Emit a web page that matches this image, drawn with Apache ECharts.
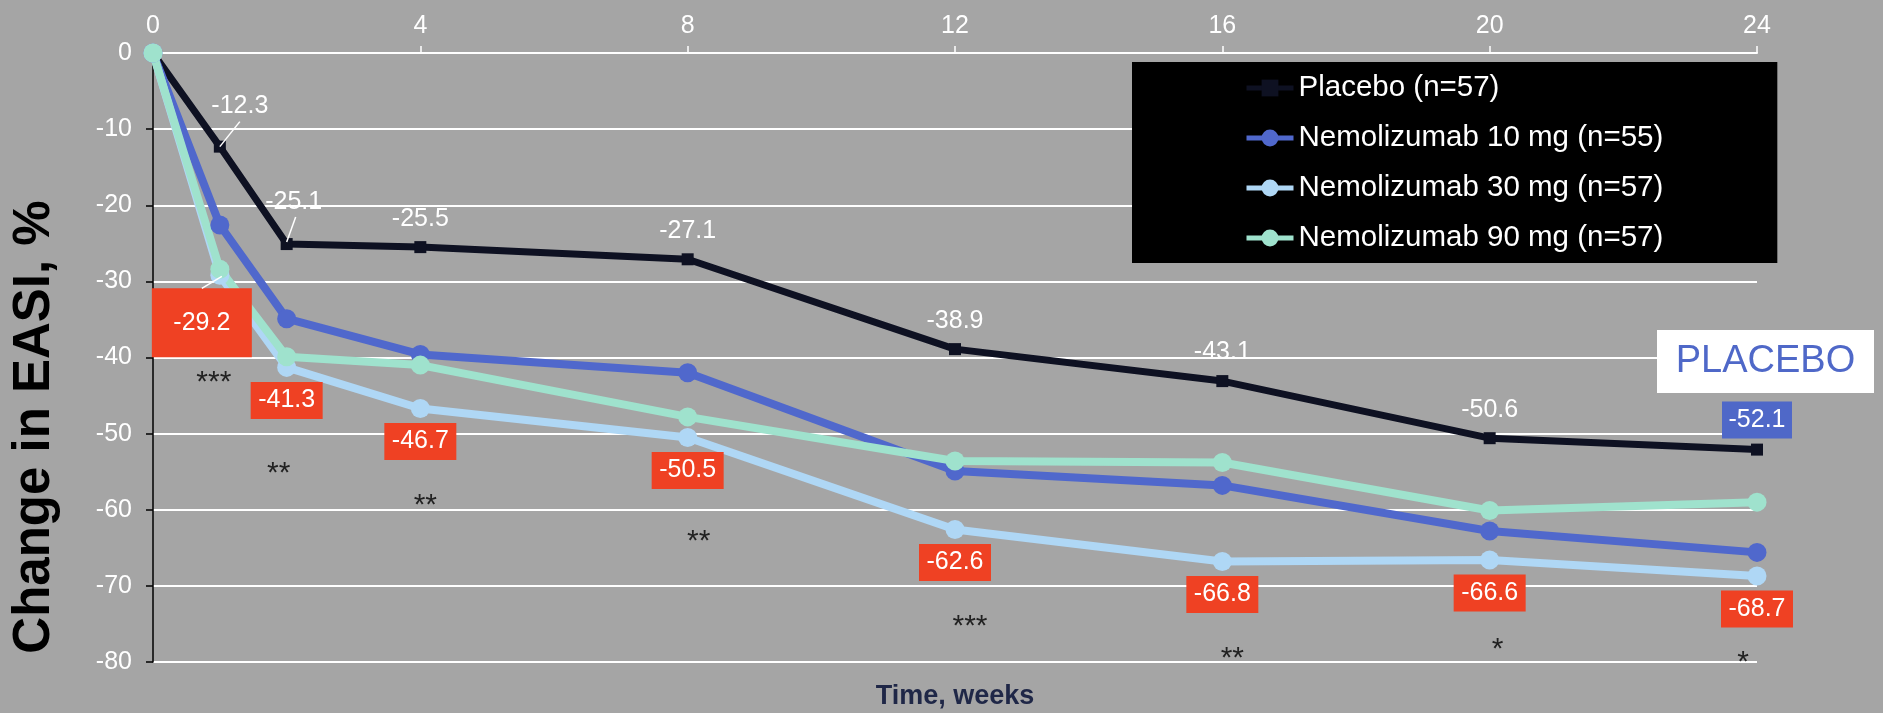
<!DOCTYPE html>
<html>
<head>
<meta charset="utf-8">
<title>Change in EASI, %</title>
<script src="https://cdn.jsdelivr.net/npm/echarts@6/dist/echarts.min.js"></script>
<style>
  html, body { margin: 0; padding: 0; background: #a5a5a5; }
  #chart { width: 1883px; height: 713px; }
</style>
</head>
<body>
<div id="chart"></div>
<script>
// Study visits (weeks) and mean % change in EASI per arm
const weeks   = [0, 1, 2, 4, 8, 12, 16, 20, 24];
const placebo = [0, -12.3, -25.1, -25.5, -27.1, -38.9, -43.1, -50.6, -52.1];
const nemo10  = [0, -22.6, -34.9, -39.6, -42.0, -54.9, -56.8, -62.8, -65.6];
const nemo30  = [0, -29.2, -41.3, -46.7, -50.5, -62.6, -66.8, -66.6, -68.7];
const nemo90  = [0, -28.4, -39.9, -41.0, -47.8, -53.6, -53.8, -60.1, -59.0];
const seriesNames = [
  'Placebo (n=57)',
  'Nemolizumab 10 mg (n=55)',
  'Nemolizumab 30 mg (n=57)',
  'Nemolizumab 90 mg (n=57)'
];
// Significance of 30 mg vs placebo at weeks 1..24
const significance = ['***', '**', '**', '**', '***', '**', '*', '*'];
const yTitle = 'Change in EASI, %';
const xTitle = 'Time, weeks';
const boxNote = 'PLACEBO';

const FONT = '"Liberation Sans", Arial, Helvetica, sans-serif';
const COLORS = ['#0e1122', '#5068cc', '#afd7f5', '#9fe2cd'];
const RED = '#ef4123';
const BLUE = '#4f68c8';

// pixel nudges of the star annotations below each 30 mg label
const sigOffsets = [[-6, 107], [-8, 106], [5, 97], [11, 104], [15, 97], [10, 97], [8, 90], [-14, 87]];

const fmt = p => p.value[1].toFixed(1);

function items(values) {
  return values.map((v, i) => {
    const it = { value: [weeks[i], v] };
    if (i === 0) it.label = { show: false };
    return it;
  });
}

const placeboData = items(placebo);
placeboData[1].label = { offset: [20, -12.5] };
placeboData[2].label = { offset: [7, -13] };
placeboData[8].label = { backgroundColor: BLUE, padding: [6, 6.5], distance: 5 };

const nemo30Data = items(nemo30);
nemo30Data[1].label = { padding: [22, 21.5], offset: [-18, -1.5] };

const sigData = significance.map((s, i) => ({
  value: [weeks[i + 1], nemo30[i + 1]],
  label: { formatter: s, offset: sigOffsets[i] }
}));

const chart = echarts.init(document.getElementById('chart'));

const lineBase = {
  type: 'line',
  showAllSymbol: true,
  emphasis: { disabled: true },
  animation: false
};

chart.setOption({
  backgroundColor: '#a5a5a5',
  animation: false,
  textStyle: { fontFamily: FONT },
  grid: { left: 153, right: 126, top: 53, bottom: 51, containLabel: false },
  legend: {
    data: seriesNames,
    orient: 'vertical',
    left: 1132,
    top: 62,
    backgroundColor: '#000',
    padding: [11, 114, 10, 112],
    itemWidth: 47,
    itemHeight: 21,
    itemGap: 20,
    selectedMode: false,
    lineStyle: { width: 5 },
    textStyle: { color: '#fff', fontSize: 29.5, fontFamily: FONT }
  },
  xAxis: {
    type: 'value',
    position: 'top',
    min: 0,
    max: 24,
    interval: 4,
    axisLine: { show: true, onZero: false, lineStyle: { color: '#fff', width: 2 } },
    axisTick: { show: true, length: 7, lineStyle: { color: '#fff', width: 1.5 } },
    axisLabel: { color: '#fff', fontSize: 25, fontFamily: FONT, margin: 14 },
    splitLine: { show: false }
  },
  yAxis: {
    type: 'value',
    min: -80,
    max: 0,
    interval: 10,
    axisLine: { show: true, onZero: false, lineStyle: { color: '#000', width: 1.5 } },
    axisTick: { show: true, length: 7, lineStyle: { color: '#000', width: 1.5 } },
    axisLabel: { color: '#fff', fontSize: 25, fontFamily: FONT, margin: 21 },
    splitLine: { show: true, lineStyle: { color: '#fff', width: 2 } }
  },
  series: [
    Object.assign({}, lineBase, {
      name: seriesNames[0],
      data: placeboData,
      symbol: 'rect',
      symbolSize: 12,
      lineStyle: { color: COLORS[0], width: 7 },
      itemStyle: { color: COLORS[0] },
      label: {
        show: true, position: 'top', distance: 10, formatter: fmt,
        color: '#fff', fontSize: 25, fontFamily: FONT
      }
    }),
    Object.assign({}, lineBase, {
      name: seriesNames[1],
      data: items(nemo10),
      symbol: 'circle',
      symbolSize: 19,
      lineStyle: { color: COLORS[1], width: 8 },
      itemStyle: { color: COLORS[1] },
      label: { show: false }
    }),
    Object.assign({}, lineBase, {
      name: seriesNames[2],
      data: nemo30Data,
      symbol: 'circle',
      symbolSize: 19,
      lineStyle: { color: COLORS[2], width: 8 },
      itemStyle: { color: COLORS[2] },
      label: {
        show: true, position: 'bottom', distance: 5, formatter: fmt,
        color: '#fff', fontSize: 25, fontFamily: FONT,
        backgroundColor: RED, padding: [6, 7.5]
      }
    }),
    Object.assign({}, lineBase, {
      name: seriesNames[3],
      data: items(nemo90),
      symbol: 'circle',
      symbolSize: 19,
      lineStyle: { color: COLORS[3], width: 8 },
      itemStyle: { color: COLORS[3] },
      label: { show: false }
    }),
    {
      name: 'significance',
      type: 'scatter',
      data: sigData,
      symbolSize: 1,
      itemStyle: { color: 'rgba(0,0,0,0)' },
      emphasis: { disabled: true },
      silent: true,
      z: 1,
      label: {
        show: true, position: 'inside',
        color: '#000', fontSize: 30, fontFamily: FONT
      }
    }
  ],
  graphic: [
    {
      id: 'yTitle', type: 'text', x: 35, y: 427, rotation: Math.PI / 2,
      style: {
        text: yTitle, fill: '#000', font: 'bold 51px ' + FONT,
        textAlign: 'center', textVerticalAlign: 'middle'
      }
    },
    {
      id: 'xTitle', type: 'text', x: 955, y: 697,
      style: {
        text: xTitle, fill: '#1f2747', font: 'bold 27px ' + FONT,
        textAlign: 'center', textVerticalAlign: 'middle'
      }
    },
    {
      id: 'noteBox', type: 'rect', shape: { x: 1657, y: 330, width: 217, height: 63 },
      style: { fill: '#fff' }, z: 5
    },
    {
      id: 'noteText', type: 'text', x: 1765.5, y: 362, z: 6,
      style: {
        text: boxNote, fill: BLUE, font: '38px ' + FONT,
        textAlign: 'center', textVerticalAlign: 'middle'
      }
    }
  ]
});

// Leader lines from the points to their displaced labels
const toPx = (x, y) => chart.convertToPixel({ gridIndex: 0 }, [x, y]);
const a = toPx(weeks[1], placebo[1]);
const b = toPx(weeks[2], placebo[2]);
const c = toPx(weeks[1], nemo30[1]);
const leader = (id, p, q) => ({
  id: id, type: 'line', z: 10,
  shape: { x1: p[0], y1: p[1], x2: q[0], y2: q[1] },
  style: { stroke: '#fff', lineWidth: 1.5 }
});
chart.setOption({
  graphic: [
    leader('lead1', [a[0], a[1]], [a[0] + 20, a[1] - 25]),
    leader('lead2', [b[0], b[1] - 2], [b[0] + 9, b[1] - 27]),
    leader('lead3', [c[0] + 2, c[1] + 1], [c[0] - 18, c[1] + 13])
  ]
});
</script>
</body>
</html>
